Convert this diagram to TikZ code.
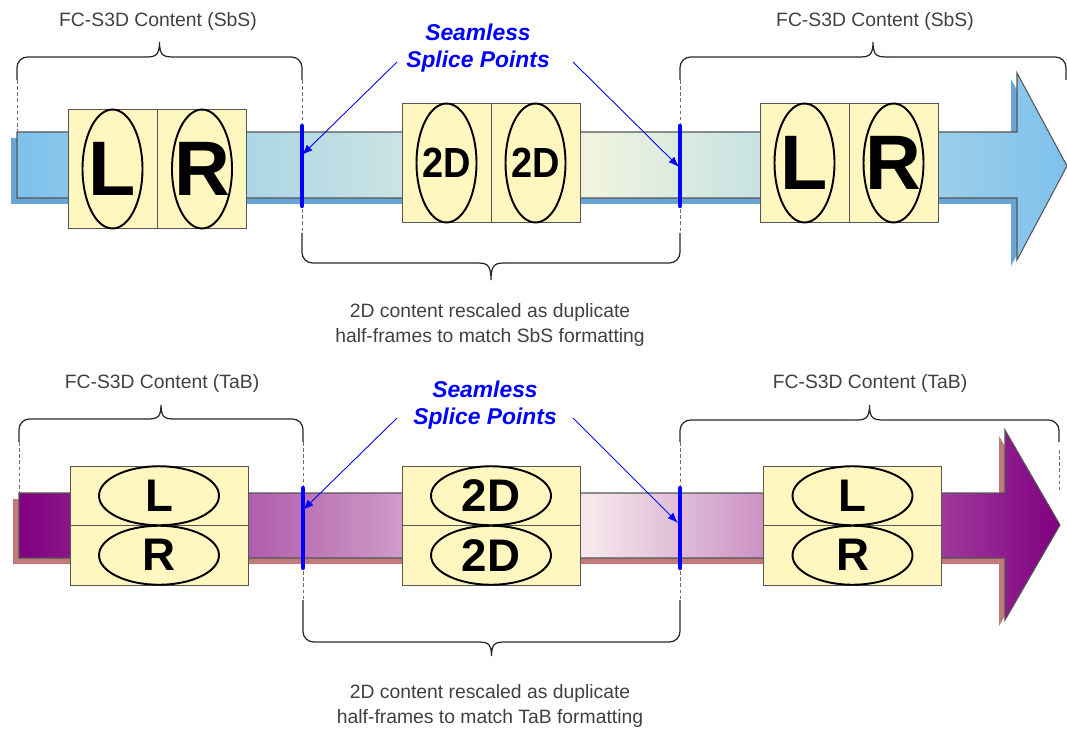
\documentclass[tikz,border=0pt]{standalone}
\usepackage{fontspec}
\setmainfont{Liberation Sans}
\usetikzlibrary{shapes.geometric,arrows.meta}

\definecolor{framebg}{RGB}{255,246,192}
\definecolor{boxline}{RGB}{85,85,85}
\definecolor{sbsblue}{RGB}{126,193,236}
\definecolor{sbsmid}{RGB}{240,244,222}
\definecolor{sbsshadow}{RGB}{104,164,212}
\definecolor{tabpurple}{RGB}{128,0,128}
\definecolor{tabmid}{RGB}{246,232,236}
\definecolor{tabshadow}{RGB}{192,122,122}
\definecolor{spliceblue}{RGB}{0,0,255}
\definecolor{labelgray}{RGB}{64,64,64}
\definecolor{dashgray}{RGB}{110,110,110}

% light spot a bit right of the middle
\pgfdeclarehorizontalshading{sbsflow}{100bp}{color(0bp)=(sbsblue); color(25bp)=(sbsblue); color(52.3bp)=(sbsmid); color(75bp)=(sbsblue); color(100bp)=(sbsblue)}
\pgfdeclarehorizontalshading{tabflow}{100bp}{color(0bp)=(tabpurple); color(25bp)=(tabpurple); color(52.4bp)=(tabmid); color(75bp)=(tabpurple); color(100bp)=(tabpurple)}

\newcommand{\bigltr}{\fontsize{44}{44}\selectfont\bfseries}
\newcommand{\midltr}{\fontsize{24}{24}\selectfont\bfseries}
\newcommand{\zerow}[1]{\makebox[0pt]{#1}}
\newcommand{\narrowtwo}{\makebox[0pt]{\scalebox{0.9}[1]{2D}}}
% curly brace with long legs: x-left, x-right, y-leg end, y-bar, y-tip
\newcommand{\spanbrace}[5]{%
  \pgfmathsetmacro\xm{(#1+#2)/2}
  \draw[bracepen, rounded corners=6pt] (#1,#3) -- (#1,#4) -- (\xm-16,#4);
  \draw[bracepen, rounded corners=6pt] (#2,#3) -- (#2,#4) -- (\xm+16,#4);
  \draw[bracepen] (\xm-16,#4) .. controls (\xm-5,#4) and (\xm,#4) .. (\xm,#5)
                  .. controls (\xm,#4) and (\xm+5,#4) .. (\xm+16,#4);}

\tikzstyle{half}     = [draw=boxline, fill=framebg, inner sep=0pt, minimum width=1.78cm, minimum height=2.38cm]
\tikzstyle{halfw}    = [draw=boxline, fill=framebg, inner sep=0pt, minimum width=3.56cm, minimum height=1.19cm]
\tikzstyle{eye}      = [ellipse, draw, line width=1.1pt, inner sep=0pt, minimum width=1.2cm, minimum height=2.38cm]
\tikzstyle{eyew}     = [ellipse, draw, line width=1.1pt, inner sep=0pt, minimum width=2.4cm, minimum height=1.18cm, font=\fontsize{26}{26}\selectfont\bfseries]
\tikzstyle{lbl}      = [text=labelgray, font=\fontsize{11}{14}\selectfont, align=center]
\tikzstyle{seam}     = [text=spliceblue, font=\fontsize{13}{15.3}\selectfont\bfseries\itshape, align=center]
\tikzstyle{cut}      = [spliceblue, line width=2.4pt, line cap=round]
\tikzstyle{guide}    = [dashgray, line width=0.5pt, dash pattern=on 2pt off 1.5pt]
\tikzstyle{bracepen} = [black!85, line width=0.7pt]
\tikzstyle{point}    = [-{Latex[length=6pt,width=4.5pt]}, spliceblue, line width=0.5pt]

\begin{document}
\begin{tikzpicture}[x=0.02cm, y=-0.02cm]
  \useasboundingbox (0,0) rectangle (1067,729);

  % ---- side by side ----
  \fill[sbsshadow, shift={(-6,6)}] (17,132) -- (1017,132) -- (1017,73) -- (1067,166) -- (1017,260) -- (1017,198) -- (17,198) -- cycle;
  \draw[boxline, line width=0.6pt, shading=sbsflow]
    (17,132) -- (1017,132) -- (1017,73) -- (1067,166) -- (1017,260) -- (1017,198) -- (17,198) -- cycle;
  \draw[guide] (17,80) -- (17,132);
  \draw[guide] (302,80) -- (302,233);
  \draw[guide] (680,80) -- (680,233);

  \node at (112.5,169) (sa-l) [half] {};
  \node at (202,169)   (sa-r) [half] {};
  \node at (446.5,163) (sb-l) [half] {};
  \node at (535.5,163) (sb-r) [half] {};
  \node at (804.5,163) (sc-l) [half] {};
  \node at (893.5,163) (sc-r) [half] {};
  \node at (sa-l) (sa-L)  [eye, font=\bigltr] {\zerow{L}};
  \node at (sa-r) (sa-R)  [eye, font=\bigltr] {\zerow{R}};
  \node at (sb-l) (sb-2a) [eye, font=\midltr] {\narrowtwo};
  \node at (sb-r) (sb-2b) [eye, font=\midltr] {\narrowtwo};
  \node at (sc-l) (sc-L)  [eye, font=\bigltr] {\zerow{L}};
  \node at (sc-r) (sc-R)  [eye, font=\bigltr] {\zerow{R}};

  \draw[cut] (302,126) -- (302,206);
  \draw[cut] (680,126) -- (680,206);

  \spanbrace{17}{302}{80}{57}{42}
  \spanbrace{680}{1066}{80}{57}{42}
  \spanbrace{302}{680}{233}{263}{280}
  \node at (158,22) (sbs-a) [lbl] {FC-S3D Content (SbS)};
  \node at (875,22) (sbs-b) [lbl] {FC-S3D Content (SbS)};
  \node at (490,325) (sbs-note) [lbl] {2D content rescaled as duplicate\\half-frames to match SbS formatting};

  \node at (478,48) (seam-a) [seam] {Seamless\\Splice Points};
  \coordinate (seam-a-l) at (397,62);
  \coordinate (seam-a-r) at (573,62);
  \coordinate (cut-a-l) at (302,155);
  \coordinate (cut-a-r) at (679,167);
  \path[point] (seam-a-l) edge (cut-a-l);
  \path[point] (seam-a-r) edge (cut-a-r);

  % ---- top and bottom ----
  \fill[tabshadow, shift={(-6,6)}] (19,493) -- (1005,493) -- (1005,430) -- (1060,525) -- (1005,620) -- (1005,558) -- (19,558) -- cycle;
  \draw[boxline, line width=0.6pt, shading=tabflow]
    (19,493) -- (1005,493) -- (1005,430) -- (1060,525) -- (1005,620) -- (1005,558) -- (19,558) -- cycle;
  \draw[guide] (19,442) -- (19,493);
  \draw[guide] (303,442) -- (303,600);
  \draw[guide] (680,442) -- (680,600);
  \draw[guide] (1059,450) -- (1059,493);

  \node at (159,495.75)   (ta-t) [halfw] {};
  \node at (159,555.25)   (ta-b) [halfw] {};
  \node at (491,495.75)   (tb-t) [halfw] {};
  \node at (491,555.25)   (tb-b) [halfw] {};
  \node at (852.5,495.75) (tc-t) [halfw] {};
  \node at (852.5,555.25) (tc-b) [halfw] {};
  \node at (ta-t) (ta-L)  [eyew] {L};
  \node at (ta-b) (ta-R)  [eyew] {R};
  \node at (tb-t) (tb-2a) [eyew] {2D};
  \node at (tb-b) (tb-2b) [eyew] {2D};
  \node at (tc-t) (tc-L)  [eyew] {L};
  \node at (tc-b) (tc-R)  [eyew] {R};

  \draw[cut] (303,488) -- (303,568);
  \draw[cut] (680,488) -- (680,568);

  \spanbrace{19}{303}{442}{419}{405}
  \spanbrace{680}{1059}{442}{420}{405}
  \spanbrace{303}{680}{600}{642}{656}
  \node at (162,383) (tab-a) [lbl] {FC-S3D Content (TaB)};
  \node at (870,383) (tab-b) [lbl] {FC-S3D Content (TaB)};
  \node at (490,706) (tab-note) [lbl] {2D content rescaled as duplicate\\half-frames to match TaB formatting};

  \node at (485,405) (seam-b) [seam] {Seamless\\Splice Points};
  \coordinate (seam-b-l) at (397,418);
  \coordinate (seam-b-r) at (573,418);
  \coordinate (cut-b-l) at (303,510);
  \coordinate (cut-b-r) at (678,523);
  \path[point] (seam-b-l) edge (cut-b-l);
  \path[point] (seam-b-r) edge (cut-b-r);
\end{tikzpicture}
\end{document}
